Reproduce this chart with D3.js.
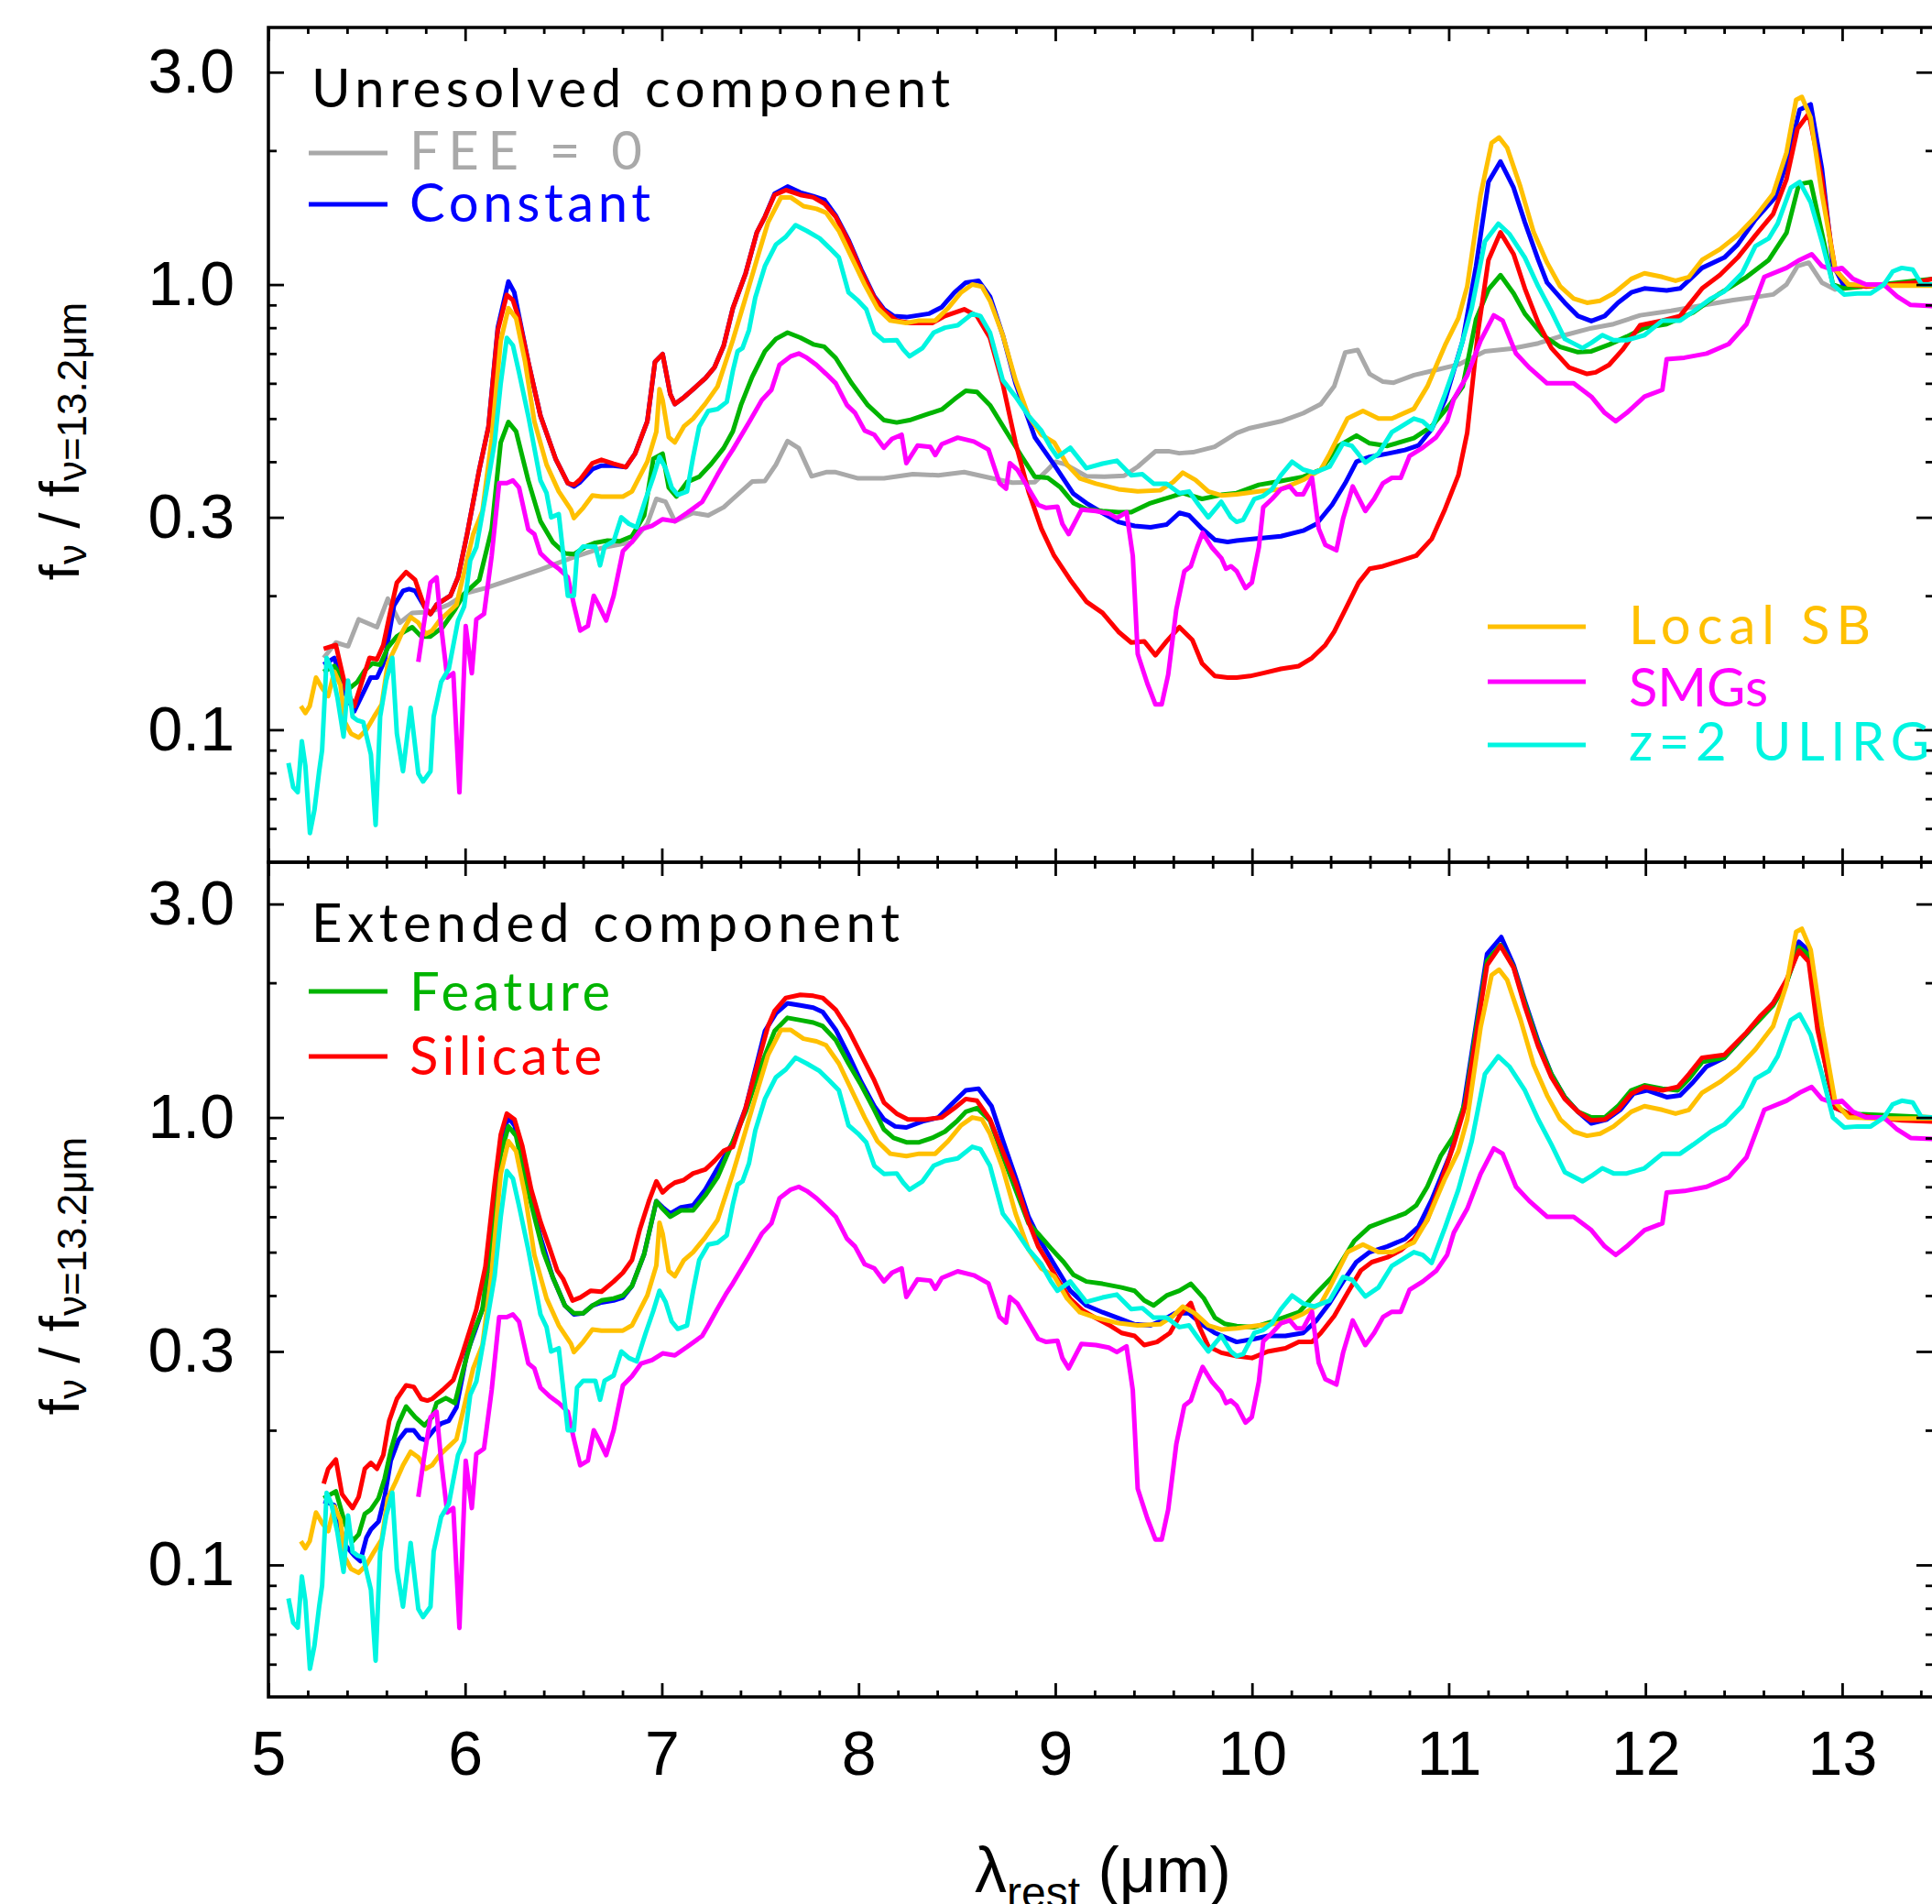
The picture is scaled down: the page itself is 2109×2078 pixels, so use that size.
<!DOCTYPE html>
<html><head><meta charset="utf-8">
<script src="https://cdn.jsdelivr.net/npm/d3@7"></script>
<style>body{margin:0;background:#fff}svg{display:block}</style>
</head><body>
<svg id="c" width="2109" height="2078"></svg>
<script>
// ---------- DATA (wavelength in micron, f_nu / f_nu(13.2um)) ----------
const xTicks = [5,6,7,8,9,10,11,12,13];
const yMajorTicks = [0.1,0.3,1,3];
const yTickLabels = ["0.1","0.3","1.0","3.0"];
const yMinorTicks = [0.06,0.07,0.08,0.09,0.2,0.4,0.5,0.6,0.7,0.8,0.9,2];

// Templates (identical in both panels)
const localSB = [[5.165,0.113],[5.188,0.109],[5.21,0.113],[5.242,0.131],[5.273,0.124],[5.304,0.119],[5.335,0.135],[5.366,0.126],[5.389,0.104],[5.42,0.098],[5.459,0.096],[5.498,0.10],[5.537,0.107],[5.576,0.114],[5.607,0.141],[5.646,0.153],[5.684,0.167],[5.723,0.179],[5.762,0.174],[5.80,0.164],[5.832,0.167],[5.87,0.176],[5.917,0.184],[5.956,0.191],[5.995,0.226],[6.041,0.275],[6.088,0.31],[6.135,0.45],[6.181,0.748],[6.22,0.885],[6.259,0.84],[6.305,0.67],[6.352,0.493],[6.414,0.394],[6.476,0.343],[6.538,0.312],[6.553,0.299],[6.60,0.315],[6.647,0.336],[6.693,0.334],[6.74,0.334],[6.802,0.334],[6.848,0.343],[6.926,0.40],[6.972,0.467],[6.988,0.582],[7.004,0.55],[7.035,0.454],[7.066,0.442],[7.112,0.48],[7.159,0.50],[7.221,0.54],[7.283,0.59],[7.361,0.75],[7.426,0.935],[7.491,1.17],[7.54,1.38],[7.606,1.57],[7.655,1.57],[7.72,1.5],[7.786,1.48],[7.835,1.45],[7.9,1.32],[7.965,1.15],[8.031,1.0],[8.096,0.885],[8.161,0.83],[8.243,0.82],[8.308,0.83],[8.39,0.83],[8.455,0.885],[8.521,0.96],[8.578,1.0],[8.627,0.99],[8.668,0.92],[8.733,0.77],[8.798,0.61],[8.864,0.507],[8.929,0.46],[8.994,0.442],[9.06,0.394],[9.125,0.367],[9.207,0.357],[9.321,0.347],[9.419,0.343],[9.533,0.345],[9.599,0.36],[9.648,0.378],[9.713,0.364],[9.778,0.343],[9.844,0.336],[9.922,0.338],[10.035,0.343],[10.147,0.347],[10.26,0.364],[10.35,0.384],[10.395,0.417],[10.485,0.50],[10.564,0.52],[10.643,0.50],[10.711,0.50],[10.823,0.526],[10.891,0.59],[10.981,0.73],[11.049,0.84],[11.094,0.99],[11.162,1.59],[11.218,2.08],[11.256,2.14],[11.297,2.03],[11.364,1.66],[11.432,1.31],[11.5,1.12],[11.567,0.99],[11.635,0.93],[11.703,0.91],[11.77,0.92],[11.838,0.955],[11.928,1.03],[11.995,1.06],[12.086,1.04],[12.153,1.02],[12.221,1.04],[12.288,1.136],[12.378,1.2],[12.469,1.29],[12.559,1.42],[12.649,1.6],[12.717,1.98],[12.766,2.6],[12.795,2.64],[12.84,2.37],[12.897,1.6],[12.965,1.08],[13.032,1.0],[13.19,0.995],[13.46,0.995]];

const smgs = [[5.762,0.142],[5.793,0.176],[5.824,0.214],[5.855,0.22],[5.878,0.171],[5.909,0.131],[5.94,0.134],[5.971,0.0723],[6.003,0.171],[6.034,0.134],[6.057,0.177],[6.096,0.182],[6.135,0.246],[6.173,0.358],[6.212,0.358],[6.243,0.363],[6.274,0.35],[6.321,0.282],[6.352,0.275],[6.383,0.249],[6.43,0.238],[6.476,0.23],[6.522,0.22],[6.553,0.191],[6.585,0.167],[6.624,0.171],[6.654,0.20],[6.678,0.191],[6.717,0.176],[6.755,0.20],[6.802,0.252],[6.848,0.264],[6.895,0.282],[6.95,0.287],[7.004,0.297],[7.066,0.294],[7.128,0.307],[7.205,0.325],[7.236,0.343],[7.283,0.374],[7.33,0.406],[7.361,0.426],[7.443,0.49],[7.508,0.55],[7.557,0.58],[7.598,0.66],[7.655,0.69],[7.696,0.70],[7.737,0.685],[7.786,0.66],[7.835,0.63],[7.884,0.60],[7.941,0.536],[7.982,0.515],[8.031,0.47],[8.08,0.46],[8.129,0.43],[8.17,0.45],[8.219,0.46],[8.243,0.397],[8.3,0.435],[8.365,0.432],[8.39,0.414],[8.423,0.438],[8.504,0.453],[8.586,0.444],[8.66,0.426],[8.717,0.358],[8.75,0.348],[8.769,0.397],[8.807,0.384],[8.856,0.353],[8.913,0.32],[8.954,0.315],[9.011,0.317],[9.036,0.29],[9.068,0.275],[9.133,0.312],[9.207,0.31],[9.272,0.306],[9.313,0.299],[9.362,0.308],[9.394,0.246],[9.419,0.148],[9.468,0.127],[9.509,0.114],[9.541,0.114],[9.574,0.133],[9.615,0.186],[9.656,0.227],[9.689,0.233],[9.721,0.257],[9.749,0.277],[9.795,0.257],[9.844,0.243],[9.868,0.23],[9.893,0.233],[9.922,0.227],[9.967,0.208],[9.999,0.214],[10.035,0.257],[10.057,0.316],[10.102,0.33],[10.147,0.347],[10.192,0.352],[10.226,0.338],[10.26,0.338],[10.305,0.368],[10.339,0.283],[10.373,0.26],[10.429,0.253],[10.463,0.298],[10.512,0.352],[10.576,0.31],[10.621,0.33],[10.666,0.358],[10.711,0.368],[10.756,0.368],[10.801,0.412],[10.868,0.43],[10.936,0.454],[10.992,0.493],[11.026,0.553],[11.094,0.625],[11.162,0.748],[11.229,0.853],[11.274,0.83],[11.342,0.70],[11.409,0.651],[11.5,0.60],[11.567,0.60],[11.635,0.60],[11.725,0.56],[11.793,0.515],[11.849,0.493],[11.905,0.515],[11.995,0.56],[12.086,0.58],[12.108,0.68],[12.198,0.685],[12.311,0.70],[12.423,0.735],[12.514,0.815],[12.604,1.04],[12.717,1.09],[12.784,1.136],[12.845,1.17],[12.897,1.10],[12.953,1.08],[12.998,1.09],[13.055,1.03],[13.122,1.0],[13.212,1.0],[13.28,0.94],[13.348,0.90],[13.46,0.895]];

const ulirg = [[5.102,0.0842],[5.126,0.0743],[5.149,0.0724],[5.17,0.0942],[5.188,0.083],[5.211,0.0586],[5.234,0.066],[5.258,0.0807],[5.273,0.09],[5.296,0.145],[5.32,0.137],[5.351,0.118],[5.382,0.0965],[5.405,0.129],[5.428,0.107],[5.452,0.105],[5.482,0.104],[5.521,0.088],[5.545,0.0611],[5.568,0.107],[5.599,0.129],[5.63,0.145],[5.653,0.098],[5.684,0.0807],[5.723,0.112],[5.762,0.0797],[5.786,0.0765],[5.824,0.0807],[5.84,0.107],[5.878,0.128],[5.917,0.137],[5.964,0.176],[5.995,0.189],[6.026,0.24],[6.057,0.257],[6.103,0.334],[6.15,0.442],[6.181,0.60],[6.212,0.759],[6.243,0.73],[6.274,0.635],[6.321,0.507],[6.352,0.429],[6.383,0.363],[6.414,0.34],[6.437,0.30],[6.476,0.305],[6.522,0.20],[6.553,0.20],[6.569,0.249],[6.60,0.258],[6.662,0.258],[6.686,0.234],[6.709,0.258],[6.755,0.265],[6.794,0.30],[6.833,0.29],[6.872,0.285],[6.918,0.33],[6.957,0.37],[6.988,0.41],[7.019,0.387],[7.05,0.35],[7.081,0.337],[7.128,0.343],[7.159,0.41],[7.19,0.48],[7.236,0.52],[7.283,0.525],[7.33,0.545],[7.361,0.64],[7.385,0.708],[7.41,0.72],[7.443,0.79],[7.475,0.935],[7.524,1.1],[7.58,1.23],[7.63,1.28],[7.68,1.36],[7.737,1.32],[7.802,1.27],[7.851,1.21],[7.9,1.15],[7.949,0.96],[7.998,0.92],[8.039,0.88],[8.08,0.78],[8.129,0.748],[8.194,0.75],[8.227,0.715],[8.259,0.69],[8.325,0.72],[8.382,0.78],[8.439,0.80],[8.504,0.81],[8.578,0.86],[8.619,0.85],[8.668,0.78],[8.733,0.61],[8.798,0.56],[8.864,0.507],[8.929,0.47],[8.978,0.43],[9.011,0.41],[9.076,0.43],[9.158,0.387],[9.24,0.396],[9.313,0.402],[9.386,0.373],[9.443,0.375],[9.5,0.357],[9.566,0.357],[9.631,0.34],[9.68,0.343],[9.729,0.32],[9.778,0.30],[9.844,0.325],[9.893,0.30],[9.922,0.293],[9.955,0.296],[10.012,0.33],[10.057,0.335],[10.102,0.347],[10.147,0.373],[10.204,0.40],[10.26,0.384],[10.316,0.378],[10.395,0.39],[10.463,0.44],[10.508,0.434],[10.576,0.398],[10.643,0.417],[10.711,0.466],[10.778,0.486],[10.823,0.50],[10.868,0.493],[10.913,0.473],[10.981,0.567],[11.049,0.69],[11.117,0.885],[11.184,1.25],[11.252,1.37],[11.308,1.30],[11.387,1.15],[11.455,0.99],[11.522,0.87],[11.59,0.755],[11.68,0.72],[11.725,0.74],[11.781,0.77],[11.838,0.75],[11.905,0.75],[11.995,0.77],[12.086,0.83],[12.176,0.83],[12.243,0.87],[12.333,0.93],[12.401,0.965],[12.491,1.06],[12.559,1.22],[12.627,1.27],[12.672,1.37],[12.739,1.65],[12.784,1.70],[12.84,1.53],[12.897,1.25],[12.953,1.0],[13.01,0.95],[13.077,0.955],[13.145,0.955],[13.212,1.0],[13.257,1.07],[13.303,1.09],[13.359,1.08],[13.404,1.0],[13.46,1.0]];

// Unresolved component models (top panel)
const feeZeroTop = [[5.281,0.145],[5.343,0.157],[5.405,0.154],[5.459,0.177],[5.552,0.170],[5.607,0.197],[5.669,0.174],[5.731,0.183],[5.824,0.184],[5.917,0.191],[6.010,0.203],[6.103,0.208],[6.228,0.217],[6.383,0.229],[6.538,0.243],[6.693,0.256],[6.848,0.264],[6.926,0.290],[6.972,0.330],[7.019,0.325],[7.066,0.294],[7.159,0.307],[7.236,0.303],[7.314,0.316],[7.361,0.33],[7.459,0.361],[7.524,0.362],[7.58,0.394],[7.639,0.445],[7.696,0.429],[7.761,0.371],[7.835,0.379],[7.884,0.379],[7.998,0.367],[8.129,0.367],[8.276,0.375],[8.406,0.373],[8.537,0.379],[8.668,0.368],[8.782,0.359],[8.896,0.36],[8.962,0.384],[9.0,0.40],[9.05,0.395],[9.158,0.371],[9.25,0.37],[9.35,0.372],[9.42,0.39],[9.509,0.422],[9.58,0.422],[9.63,0.418],[9.70,0.42],[9.81,0.432],[9.922,0.464],[9.99,0.476],[10.147,0.493],[10.26,0.514],[10.35,0.539],[10.418,0.591],[10.474,0.704],[10.537,0.713],[10.598,0.63],[10.666,0.605],[10.72,0.602],[10.824,0.626],[10.936,0.643],[11.049,0.661],[11.184,0.708],[11.319,0.718],[11.455,0.738],[11.59,0.77],[11.725,0.798],[11.838,0.815],[11.973,0.853],[12.13,0.873],[12.29,0.898],[12.446,0.923],[12.581,0.94],[12.649,0.95],[12.717,1.0],[12.773,1.10],[12.83,1.12],[12.897,1.01],[12.965,0.975],[13.03,0.99],[13.2,1.0],[13.46,1.0]];

const constantTop = [[5.281,0.14],[5.335,0.145],[5.393,0.12],[5.436,0.11],[5.52,0.131],[5.552,0.131],[5.591,0.143],[5.638,0.19],[5.684,0.205],[5.715,0.207],[5.746,0.205],[5.793,0.189],[5.824,0.182],[5.855,0.191],[5.925,0.20],[5.964,0.22],[6.01,0.275],[6.072,0.384],[6.119,0.48],[6.166,0.80],[6.22,1.016],[6.25,0.96],[6.274,0.85],[6.321,0.67],[6.383,0.507],[6.46,0.406],[6.522,0.358],[6.553,0.352],[6.585,0.36],[6.647,0.385],[6.693,0.392],[6.755,0.392],[6.817,0.389],[6.864,0.417],[6.926,0.493],[6.965,0.67],[7.004,0.698],[7.043,0.567],[7.066,0.539],[7.112,0.558],[7.159,0.582],[7.221,0.616],[7.268,0.652],[7.314,0.728],[7.361,0.885],[7.426,1.06],[7.483,1.31],[7.524,1.42],[7.573,1.60],[7.639,1.66],[7.704,1.61],[7.77,1.58],[7.826,1.55],[7.884,1.43],[7.949,1.26],[8.014,1.08],[8.08,0.94],[8.129,0.88],[8.178,0.85],[8.243,0.845],[8.357,0.86],[8.423,0.89],[8.488,0.96],[8.545,1.01],[8.61,1.02],[8.668,0.94],[8.733,0.77],[8.798,0.60],[8.896,0.454],[8.994,0.394],[9.092,0.339],[9.158,0.323],[9.24,0.307],[9.321,0.293],[9.403,0.287],[9.484,0.285],[9.566,0.289],[9.631,0.307],[9.68,0.303],[9.746,0.283],[9.811,0.267],[9.876,0.264],[9.922,0.266],[9.99,0.268],[10.147,0.272],[10.26,0.28],[10.328,0.29],[10.407,0.32],[10.474,0.358],[10.531,0.40],[10.598,0.41],[10.688,0.417],[10.778,0.425],[10.846,0.435],[10.913,0.473],[10.981,0.55],[11.071,0.748],[11.139,1.1],[11.202,1.70],[11.263,1.89],[11.33,1.65],[11.387,1.38],[11.455,1.136],[11.5,1.01],[11.59,0.91],[11.657,0.85],[11.725,0.828],[11.793,0.85],[11.86,0.91],[11.928,0.96],[11.995,0.98],[12.108,0.97],[12.176,0.98],[12.288,1.09],[12.401,1.15],[12.469,1.23],[12.559,1.40],[12.66,1.57],[12.717,1.87],[12.784,2.47],[12.84,2.54],[12.897,1.82],[12.953,1.11],[13.01,0.99],[13.2,1.0],[13.46,1.0]];

const featureTop = [[5.28,0.135],[5.335,0.139],[5.382,0.129],[5.413,0.124],[5.452,0.128],[5.49,0.136],[5.529,0.141],[5.568,0.140],[5.607,0.153],[5.653,0.162],[5.70,0.167],[5.731,0.17],[5.777,0.162],[5.824,0.162],[5.886,0.170],[5.948,0.186],[5.995,0.202],[6.072,0.217],[6.135,0.282],[6.181,0.442],[6.22,0.491],[6.259,0.468],[6.321,0.363],[6.383,0.294],[6.445,0.264],[6.507,0.249],[6.553,0.248],[6.615,0.258],[6.662,0.263],[6.724,0.266],[6.786,0.265],[6.848,0.272],[6.91,0.303],[6.957,0.406],[7.004,0.417],[7.035,0.35],[7.074,0.334],[7.128,0.36],[7.19,0.37],[7.252,0.396],[7.314,0.429],[7.361,0.468],[7.402,0.536],[7.459,0.62],[7.524,0.708],[7.58,0.755],[7.639,0.78],[7.704,0.76],[7.77,0.734],[7.826,0.725],[7.884,0.684],[7.965,0.60],[8.047,0.536],[8.129,0.496],[8.194,0.49],[8.259,0.496],[8.341,0.51],[8.423,0.524],[8.488,0.553],[8.545,0.577],[8.602,0.574],[8.668,0.536],[8.75,0.468],[8.831,0.41],[8.896,0.37],[8.962,0.368],[9.027,0.35],[9.092,0.323],[9.158,0.313],[9.24,0.31],[9.321,0.308],[9.386,0.308],[9.484,0.323],[9.583,0.333],[9.648,0.34],[9.746,0.33],[9.844,0.337],[9.922,0.34],[10.035,0.355],[10.147,0.362],[10.26,0.37],[10.35,0.384],[10.44,0.434],[10.531,0.458],[10.598,0.44],[10.688,0.434],[10.823,0.452],[10.913,0.48],[11.004,0.536],[11.071,0.59],[11.139,0.836],[11.202,0.975],[11.263,1.05],[11.33,0.955],[11.387,0.86],[11.477,0.77],[11.567,0.724],[11.657,0.705],[11.725,0.708],[11.815,0.733],[11.905,0.764],[11.995,0.80],[12.108,0.815],[12.243,0.866],[12.378,0.955],[12.514,1.04],[12.627,1.136],[12.717,1.306],[12.78,1.68],[12.84,1.70],[12.897,1.306],[12.953,1.0],[13.01,0.98],[13.2,1.0],[13.37,1.02],[13.46,1.03]];

const silicateTop = [[5.281,0.152],[5.343,0.155],[5.393,0.124],[5.436,0.113],[5.514,0.145],[5.552,0.144],[5.584,0.155],[5.622,0.186],[5.653,0.214],[5.70,0.226],[5.746,0.217],[5.793,0.189],[5.824,0.182],[5.855,0.191],[5.925,0.20],[5.964,0.22],[6.01,0.275],[6.072,0.384],[6.119,0.48],[6.166,0.79],[6.212,0.948],[6.243,0.922],[6.274,0.837],[6.321,0.67],[6.383,0.507],[6.46,0.406],[6.522,0.358],[6.553,0.355],[6.585,0.365],[6.647,0.397],[6.693,0.404],[6.755,0.396],[6.817,0.389],[6.864,0.417],[6.926,0.493],[6.965,0.67],[7.004,0.698],[7.043,0.567],[7.066,0.539],[7.112,0.558],[7.159,0.582],[7.221,0.616],[7.268,0.652],[7.314,0.728],[7.361,0.885],[7.426,1.06],[7.483,1.31],[7.524,1.42],[7.573,1.59],[7.63,1.63],[7.704,1.59],[7.77,1.57],[7.826,1.52],[7.884,1.42],[7.949,1.25],[8.014,1.07],[8.08,0.935],[8.129,0.873],[8.194,0.83],[8.259,0.82],[8.374,0.82],[8.439,0.85],[8.537,0.88],[8.602,0.85],[8.668,0.759],[8.733,0.598],[8.798,0.441],[8.864,0.343],[8.929,0.283],[8.994,0.246],[9.076,0.217],[9.158,0.194],[9.24,0.183],[9.321,0.166],[9.386,0.157],[9.452,0.158],[9.509,0.147],[9.566,0.158],[9.631,0.17],[9.697,0.159],[9.746,0.141],[9.811,0.132],[9.876,0.131],[9.922,0.131],[9.99,0.132],[10.057,0.134],[10.147,0.137],[10.238,0.139],[10.305,0.145],[10.373,0.155],[10.418,0.166],[10.474,0.186],[10.542,0.214],[10.598,0.23],[10.666,0.233],[10.733,0.238],[10.835,0.246],[10.913,0.268],[10.981,0.313],[11.049,0.373],[11.094,0.465],[11.15,0.79],[11.202,1.136],[11.263,1.31],[11.33,1.17],[11.387,0.98],[11.455,0.82],[11.522,0.72],[11.612,0.651],[11.703,0.63],[11.747,0.635],[11.815,0.66],[11.883,0.713],[11.973,0.81],[12.086,0.83],[12.176,0.85],[12.288,0.98],[12.378,1.05],[12.469,1.15],[12.559,1.29],[12.649,1.44],[12.717,1.725],[12.773,2.24],[12.83,2.42],[12.897,1.725],[12.942,1.24],[12.965,1.08],[13.032,1.0],[13.122,0.99],[13.257,1.0],[13.37,1.01],[13.46,1.03]];

// Extended component models (bottom panel)
const constantBot = [[5.281,0.139],[5.335,0.136],[5.389,0.111],[5.436,0.105],[5.467,0.102],[5.498,0.115],[5.521,0.12],[5.56,0.125],[5.591,0.142],[5.622,0.171],[5.661,0.19],[5.70,0.20],[5.739,0.20],[5.77,0.192],[5.80,0.19],[5.84,0.20],[5.878,0.207],[5.917,0.21],[5.956,0.225],[6.01,0.298],[6.057,0.34],[6.103,0.39],[6.15,0.68],[6.181,0.89],[6.22,1.0],[6.251,0.96],[6.29,0.82],[6.336,0.66],[6.383,0.54],[6.445,0.44],[6.507,0.38],[6.553,0.363],[6.60,0.365],[6.647,0.38],[6.693,0.386],[6.755,0.39],[6.802,0.396],[6.848,0.42],[6.91,0.495],[6.972,0.65],[7.004,0.63],[7.043,0.61],[7.097,0.63],[7.159,0.636],[7.221,0.69],[7.283,0.77],[7.361,0.88],[7.426,1.05],[7.524,1.56],[7.58,1.71],[7.639,1.80],[7.704,1.78],[7.77,1.76],[7.818,1.72],[7.884,1.57],[7.949,1.38],[8.014,1.20],[8.08,1.06],[8.129,0.99],[8.186,0.955],[8.243,0.95],[8.325,0.98],[8.406,1.0],[8.472,1.07],[8.545,1.15],[8.61,1.16],[8.676,1.06],[8.733,0.89],[8.798,0.735],[8.864,0.60],[8.929,0.525],[8.994,0.47],[9.076,0.41],[9.158,0.38],[9.24,0.367],[9.321,0.356],[9.403,0.345],[9.484,0.343],[9.55,0.353],[9.607,0.365],[9.68,0.365],[9.746,0.345],[9.811,0.33],[9.922,0.315],[10.012,0.32],[10.08,0.325],[10.17,0.325],[10.26,0.33],[10.328,0.352],[10.395,0.385],[10.463,0.43],[10.53,0.475],[10.598,0.50],[10.688,0.515],[10.778,0.535],[10.846,0.57],[10.913,0.654],[11.004,0.82],[11.071,1.03],[11.139,1.61],[11.195,2.32],[11.267,2.53],[11.33,2.19],[11.387,1.82],[11.455,1.48],[11.522,1.25],[11.59,1.11],[11.657,1.03],[11.725,0.97],[11.804,0.99],[11.872,1.04],[11.939,1.13],[12.007,1.15],[12.108,1.11],[12.176,1.12],[12.243,1.2],[12.311,1.30],[12.401,1.36],[12.514,1.54],[12.649,1.80],[12.717,2.0],[12.78,2.47],[12.83,2.36],[12.875,1.66],[12.93,1.21],[12.965,1.05],[13.03,1.02],[13.2,1.0],[13.46,1.0]];

const featureBot = [[5.281,0.141],[5.343,0.146],[5.389,0.124],[5.428,0.113],[5.459,0.117],[5.49,0.13],[5.521,0.133],[5.56,0.141],[5.591,0.156],[5.622,0.18],[5.661,0.207],[5.70,0.226],[5.746,0.214],[5.793,0.205],[5.832,0.214],[5.855,0.23],[5.902,0.236],[5.948,0.23],[5.995,0.278],[6.041,0.33],[6.088,0.372],[6.135,0.553],[6.181,0.826],[6.22,0.955],[6.259,0.91],[6.305,0.732],[6.352,0.60],[6.398,0.50],[6.445,0.44],[6.507,0.38],[6.553,0.365],[6.60,0.365],[6.647,0.38],[6.693,0.39],[6.755,0.394],[6.802,0.40],[6.848,0.42],[6.91,0.495],[6.972,0.65],[7.004,0.625],[7.043,0.60],[7.097,0.62],[7.159,0.62],[7.221,0.67],[7.283,0.735],[7.345,0.85],[7.426,1.03],[7.508,1.32],[7.573,1.56],[7.639,1.67],[7.704,1.65],[7.77,1.63],[7.818,1.60],[7.884,1.49],[7.949,1.32],[8.014,1.18],[8.08,1.04],[8.129,0.94],[8.178,0.90],[8.243,0.88],[8.308,0.88],[8.374,0.90],[8.439,0.93],[8.504,0.985],[8.545,1.03],[8.602,1.05],[8.668,0.985],[8.733,0.82],[8.798,0.69],[8.864,0.58],[8.913,0.55],[8.978,0.51],[9.043,0.475],[9.092,0.445],[9.158,0.43],[9.24,0.425],[9.337,0.417],[9.403,0.41],[9.452,0.39],[9.5,0.38],[9.566,0.40],[9.631,0.41],[9.689,0.425],[9.754,0.395],[9.811,0.357],[9.86,0.346],[9.922,0.342],[10.012,0.34],[10.102,0.35],[10.238,0.367],[10.316,0.40],[10.407,0.44],[10.52,0.53],[10.598,0.57],[10.688,0.59],[10.778,0.61],[10.835,0.636],[10.891,0.70],[10.959,0.82],[11.026,0.91],[11.083,1.08],[11.139,1.57],[11.195,2.24],[11.263,2.43],[11.33,2.17],[11.387,1.80],[11.455,1.46],[11.522,1.25],[11.59,1.11],[11.657,1.03],[11.725,1.0],[11.793,1.0],[11.86,1.06],[11.928,1.15],[11.995,1.18],[12.086,1.16],[12.164,1.15],[12.221,1.22],[12.288,1.33],[12.401,1.36],[12.514,1.54],[12.649,1.78],[12.717,2.0],[12.78,2.40],[12.835,2.30],[12.875,1.64],[12.93,1.21],[12.965,1.06],[13.032,1.02],[13.46,1.0]];

const silicateBot = [[5.281,0.152],[5.304,0.164],[5.343,0.172],[5.374,0.144],[5.405,0.138],[5.428,0.134],[5.459,0.142],[5.49,0.164],[5.521,0.169],[5.552,0.164],[5.584,0.176],[5.614,0.21],[5.653,0.235],[5.70,0.252],[5.739,0.25],[5.777,0.235],[5.808,0.233],[5.832,0.235],[5.886,0.246],[5.94,0.259],[5.979,0.29],[6.01,0.32],[6.057,0.372],[6.103,0.464],[6.15,0.71],[6.181,0.915],[6.212,1.02],[6.251,0.99],[6.29,0.866],[6.336,0.69],[6.383,0.585],[6.43,0.51],[6.468,0.455],[6.499,0.435],[6.546,0.39],[6.585,0.396],[6.639,0.41],[6.693,0.408],[6.755,0.43],[6.802,0.45],[6.848,0.48],[6.887,0.56],[6.934,0.65],[6.972,0.72],[7.004,0.68],[7.035,0.70],[7.066,0.715],[7.112,0.725],[7.159,0.75],[7.221,0.765],[7.268,0.80],[7.314,0.842],[7.361,0.86],[7.426,1.05],[7.491,1.34],[7.54,1.60],[7.573,1.73],[7.63,1.85],[7.704,1.88],[7.77,1.87],[7.818,1.85],[7.884,1.74],[7.949,1.57],[8.014,1.38],[8.08,1.21],[8.129,1.08],[8.194,1.02],[8.251,0.99],[8.341,0.99],[8.423,1.0],[8.488,1.05],[8.545,1.10],[8.602,1.09],[8.668,0.99],[8.733,0.84],[8.798,0.715],[8.864,0.585],[8.913,0.515],[8.962,0.475],[9.011,0.435],[9.076,0.393],[9.141,0.37],[9.207,0.356],[9.272,0.344],[9.337,0.33],[9.403,0.325],[9.452,0.31],[9.517,0.315],[9.583,0.33],[9.64,0.365],[9.689,0.385],[9.729,0.343],[9.778,0.308],[9.844,0.298],[9.922,0.293],[10.0,0.29],[10.08,0.30],[10.17,0.305],[10.238,0.315],[10.305,0.315],[10.35,0.33],[10.418,0.36],[10.485,0.405],[10.553,0.455],[10.609,0.475],[10.688,0.487],[10.756,0.505],[10.823,0.535],[10.891,0.59],[10.959,0.715],[11.026,0.87],[11.083,1.06],[11.139,1.52],[11.195,2.19],[11.263,2.42],[11.33,2.16],[11.387,1.77],[11.455,1.44],[11.522,1.23],[11.59,1.10],[11.657,1.03],[11.725,0.985],[11.793,0.99],[11.86,1.04],[11.928,1.13],[11.995,1.17],[12.086,1.15],[12.164,1.17],[12.221,1.25],[12.288,1.36],[12.401,1.38],[12.514,1.55],[12.581,1.68],[12.649,1.80],[12.717,2.03],[12.78,2.36],[12.83,2.23],[12.875,1.57],[12.92,1.28],[12.965,1.05],[13.032,1.02],[13.167,1.0],[13.303,0.985],[13.46,0.98]];

// ---------- STYLES ----------
const COL = {gray:"#a9a9a9", blue:"#0000ff", green:"#00b400", red:"#ff0000",
             orange:"#ffc000", magenta:"#ff00ff", cyan:"#00f5e1"};
const LEG_FONT = "Lato, 'DejaVu Sans', sans-serif";
const AX_FONT = "'Liberation Sans', Arial, Helvetica, sans-serif";
const LW = 5;

const svg = d3.select("#c");
svg.append("rect").attr("width",2109).attr("height",2078).attr("fill","#fff");

const X0 = 293, X1 = 2111;
const x = d3.scaleLinear().domain([5, 13.466]).range([X0, X1]);
const xMinor = d3.range(5, 13.47, 0.2).map(v => +v.toFixed(1)).filter(v => Math.abs(v - Math.round(v)) > 1e-6);

const panels = [
  { top: 30, bottom: 941, domain: [0.0504, 3.78],
    series: [[feeZeroTop,COL.gray],[constantTop,COL.blue],[featureTop,COL.green],[silicateTop,COL.red],
             [localSB,COL.orange],[smgs,COL.magenta],[ulirg,COL.cyan]],
    title: "Unresolved component", titleLen: 697, titleY: 117,
    legend: [["FEE = 0",COL.gray,185,167,254],["Constant",COL.blue,242,223,263]],
    labelX: false },
  { top: 941, bottom: 1852, domain: [0.0507, 3.72],
    series: [[constantBot,COL.blue],[featureBot,COL.green],[silicateBot,COL.red],
             [localSB,COL.orange],[smgs,COL.magenta],[ulirg,COL.cyan]],
    title: "Extended component", titleLen: 642, titleY: 1028,
    legend: [["Feature",COL.green,1103,1082,219],["Silicate",COL.red,1173,1153,210]],
    labelX: true }
];

panels.forEach((p, i) => {
  const y = d3.scaleLog().domain(p.domain).range([p.bottom, p.top]);
  const clipId = "clip" + i;
  svg.append("clipPath").attr("id", clipId).append("rect")
    .attr("x", X0).attr("y", p.top).attr("width", X1 - X0).attr("height", p.bottom - p.top);
  const g = svg.append("g").attr("clip-path", `url(#${clipId})`);
  const line = d3.line().x(d => x(d[0])).y(d => y(d[1]));
  p.series.forEach(([data, c]) => {
    g.append("path").datum(data).attr("d", line).attr("fill","none")
      .attr("stroke", c).attr("stroke-width", LW).attr("stroke-linejoin","round");
  });

  // axes
  const styleAxis = sel => { sel.select(".domain").remove();
    sel.selectAll(".tick line").attr("stroke","#000").attr("stroke-width",2.8); };
  // left
  svg.append("g").attr("transform",`translate(${X0},0)`)
    .call(d3.axisLeft(y).tickValues(yMajorTicks).tickSize(-17).tickPadding(37)
      .tickFormat((d,k) => yTickLabels[k]))
    .call(styleAxis)
    .call(s => s.selectAll("text").attr("font-family",AX_FONT).attr("font-size",68).attr("fill","#000"));
  svg.append("g").attr("transform",`translate(${X0},0)`)
    .call(d3.axisLeft(y).tickValues(yMinorTicks).tickSize(-9).tickFormat(""))
    .call(styleAxis);
  // right
  svg.append("g").attr("transform",`translate(${X1},0)`)
    .call(d3.axisRight(y).tickValues(yMajorTicks).tickSize(-19).tickFormat(""))
    .call(styleAxis);
  svg.append("g").attr("transform",`translate(${X1},0)`)
    .call(d3.axisRight(y).tickValues(yMinorTicks).tickSize(-9).tickFormat(""))
    .call(styleAxis);
  // top and bottom
  svg.append("g").attr("transform",`translate(0,${p.top})`)
    .call(d3.axisTop(x).tickValues(xTicks).tickSize(-15).tickFormat("")).call(styleAxis);
  svg.append("g").attr("transform",`translate(0,${p.top})`)
    .call(d3.axisTop(x).tickValues(xMinor).tickSize(-7).tickFormat("")).call(styleAxis);
  const bx = svg.append("g").attr("transform",`translate(0,${p.bottom})`)
    .call(d3.axisBottom(x).tickValues(xTicks).tickSize(-15).tickPadding(37)
      .tickFormat(p.labelX ? d3.format("d") : ""))
    .call(styleAxis);
  bx.selectAll("text").attr("font-family",AX_FONT).attr("font-size",68).attr("fill","#000");
  svg.append("g").attr("transform",`translate(0,${p.bottom})`)
    .call(d3.axisBottom(x).tickValues(xMinor).tickSize(-7).tickFormat("")).call(styleAxis);

  // frame
  svg.append("rect").attr("x",X0).attr("y",p.top).attr("width",X1-X0).attr("height",p.bottom-p.top)
    .attr("fill","none").attr("stroke","#000").attr("stroke-width",3.5);

  // legend
  svg.append("text").attr("x",340).attr("y",p.titleY).text(p.title)
    .attr("font-family",LEG_FONT).attr("font-size",58).attr("fill","#000")
    .attr("textLength",p.titleLen).attr("lengthAdjust","spacing");
  p.legend.forEach(([lab,c,ty,ly,len]) => {
    svg.append("line").attr("x1",337).attr("x2",423).attr("y1",ly).attr("y2",ly)
      .attr("stroke",c).attr("stroke-width",LW);
    svg.append("text").attr("x",447).attr("y",ty).text(lab)
      .attr("font-family",LEG_FONT).attr("font-size",58).attr("fill",c)
      .attr("textLength",len).attr("lengthAdjust","spacing");
  });

  // y axis title
  const cy = (p.top + p.bottom) / 2 - 4;
  const t = svg.append("text").attr("transform",`translate(86,${cy}) rotate(-90)`)
    .attr("text-anchor","middle").attr("font-family",AX_FONT).attr("fill","#000").attr("font-size",62);
  t.append("tspan").text("f");
  t.append("tspan").attr("font-size",44).attr("dy",8).text("ν");
  t.append("tspan").attr("dy",-8).text(" / f");
  t.append("tspan").attr("font-size",44).attr("dy",8).text("ν=13.2μm");
});

// right legend (templates), top panel
const tmplLegend = [["Local SB",COL.orange,703,684,264],["SMGs",COL.magenta,771,744,152],["z=2 ULIRG",COL.cyan,830,813,328]];
tmplLegend.forEach(([lab,c,ty,ly,len]) => {
  svg.append("line").attr("x1",1624).attr("x2",1731).attr("y1",ly).attr("y2",ly)
    .attr("stroke",c).attr("stroke-width",LW);
  svg.append("text").attr("x",1778).attr("y",ty).text(lab)
    .attr("font-family",LEG_FONT).attr("font-size",58).attr("fill",c)
    .attr("textLength",len).attr("lengthAdjust","spacing");
});

// x axis title
const xt = svg.append("text").attr("x",1064).attr("y",2065)
  .attr("font-family",AX_FONT).attr("font-size",70).attr("fill","#000");
xt.append("tspan").text("λ");
xt.append("tspan").attr("font-size",48).attr("dy",17).text("rest");
xt.append("tspan").attr("dy",-17).text(" (μm)");
</script>
</body></html>
